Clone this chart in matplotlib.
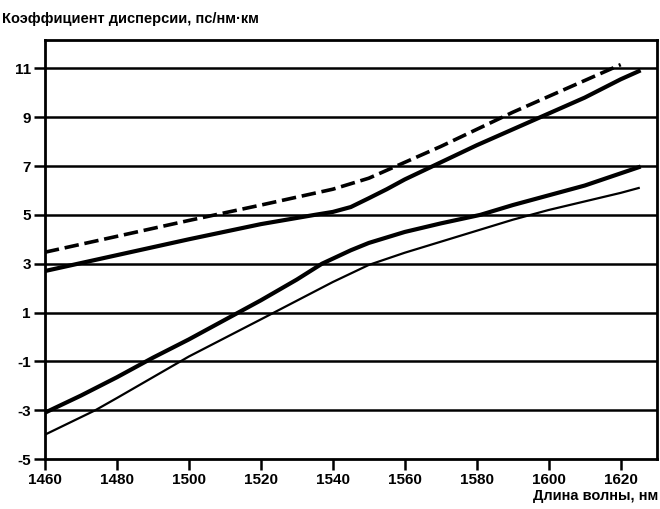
import matplotlib
matplotlib.use("Agg")
import matplotlib.pyplot as plt

plt.rcParams['font.family'] = ['Liberation Sans Narrow', 'Liberation Sans', 'DejaVu Sans']

# wavelength, nm / dispersion, ps/(nm*km)
wl_dash = [1460, 1480, 1500, 1520, 1540, 1550, 1560, 1570, 1580, 1590, 1600, 1610, 1620]
d_dash = [3.47, 4.12, 4.77, 5.4, 6.05, 6.5, 7.15, 7.8, 8.5, 9.2, 9.85, 10.5, 11.15]

wl_thick = [1460, 1480, 1500, 1520, 1535, 1540, 1545, 1550, 1555, 1560, 1570, 1580, 1590, 1600, 1610, 1620, 1625]
d_thick_up = [2.7, 3.35, 4.0, 4.62, 5.0, 5.12, 5.32, 5.68, 6.05, 6.45, 7.15, 7.85, 8.5, 9.15, 9.8, 10.55, 10.88]

wl_low = [1460, 1470, 1480, 1490, 1500, 1510, 1520, 1530, 1537, 1545, 1550, 1560, 1570, 1581, 1590, 1600, 1610, 1620, 1625]
d_thick_low = [-3.1, -2.4, -1.65, -0.85, -0.1, 0.7, 1.5, 2.35, 3.0, 3.55, 3.85, 4.3, 4.65, 5.0, 5.4, 5.8, 6.2, 6.7, 6.95]

wl_thin = [1460, 1474, 1480, 1500, 1520, 1540, 1550, 1560, 1570, 1580, 1590, 1600, 1610, 1620, 1625]
d_thin = [-4.0, -3.0, -2.5, -0.8, 0.72, 2.25, 2.95, 3.45, 3.9, 4.35, 4.8, 5.2, 5.55, 5.9, 6.1]

xticks = [1460, 1480, 1500, 1520, 1540, 1560, 1580, 1600, 1620]
yticks = [11, 9, 7, 5, 3, 1, -1, -3, -5]

fig = plt.figure(figsize=(6.6, 5.09), dpi=100)
ax = fig.add_axes([0.068, 0.098, 0.927, 0.823])

for y in yticks[:-1]:
    ax.axhline(y, color="black", lw=1.8, zorder=1)

ax.plot(wl_dash, d_dash, color="black", lw=2.6, ls=(0, (4, 1.6)), zorder=3)
ax.plot(wl_thick, d_thick_up, color="black", lw=3.0, zorder=3)
ax.plot(wl_low, d_thick_low, color="black", lw=3.0, zorder=3)
ax.plot(wl_thin, d_thin, color="black", lw=1.6, zorder=3)

ax.set_xlim(1460, 1630)
ax.set_ylim(-5, 12.15)
ax.set_xticks(xticks)
ax.set_yticks(yticks)
ax.set_xticklabels([str(v) for v in xticks], fontsize=11, fontweight="bold")
ax.set_yticklabels([str(v) for v in yticks], fontsize=11, fontweight="bold")
ax.tick_params(axis="both", direction="out", length=8, width=1.8, pad=2)
for s in ax.spines.values():
    s.set_linewidth(2.0)

fig.text(0.003, 0.962, "Коэффициент дисперсии, пс/нм·км", fontsize=10.5,
         fontweight="bold", ha="left", va="center")
fig.text(0.997, 0.012, "Длина волны, нм", fontsize=10.5, fontweight="bold",
         ha="right", va="bottom")

fig.savefig("out.png", dpi=100)
